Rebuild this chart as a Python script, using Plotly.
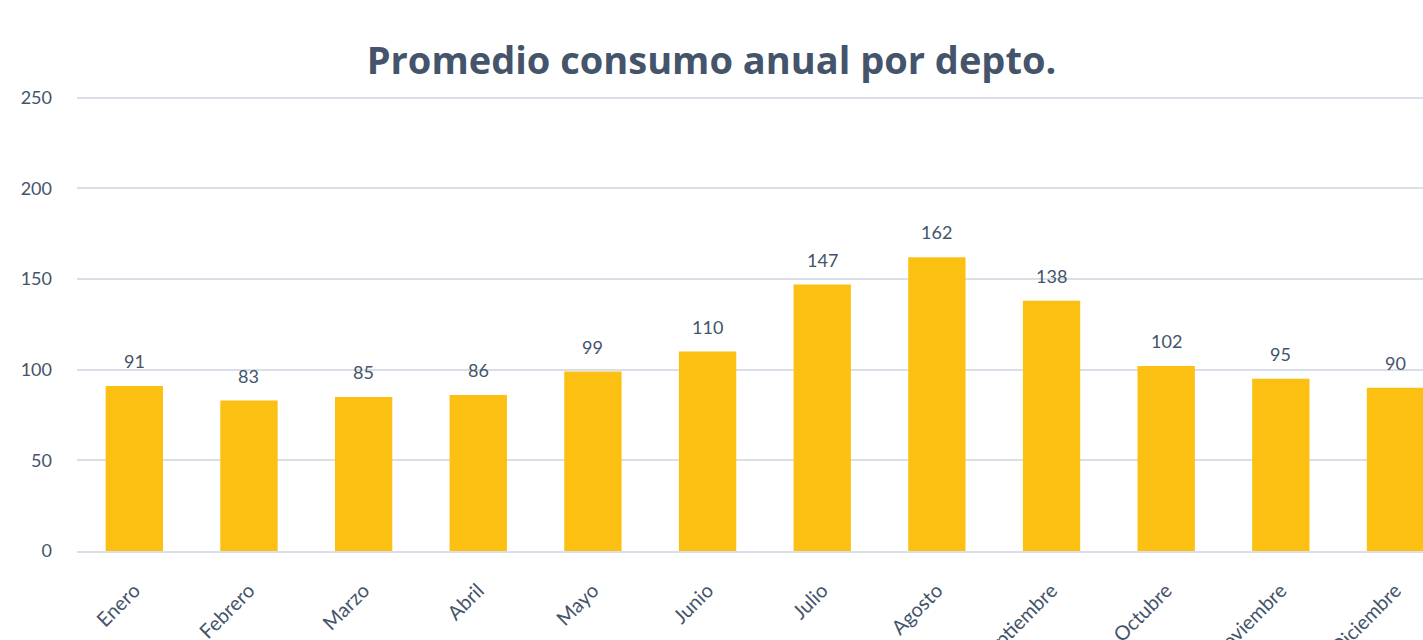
import plotly.graph_objects as go

meses = ["Enero", "Febrero", "Marzo", "Abril", "Mayo", "Junio", "Julio",
         "Agosto", "Septiembre", "Octubre", "Noviembre", "Diciembre"]
consumo = [91, 83, 85, 86, 99, 110, 147, 162, 138, 102, 95, 90]
y_ticks = [0, 50, 100, 150, 200, 250]

texto = "#44546A"
grid = "#D9DEE7"
fuente = "Lato"

fig = go.Figure()
fig.add_trace(go.Bar(
    x=list(range(len(meses))),
    y=consumo,
    marker=dict(color="#FBC012", line=dict(width=0)),
    hoverinfo="x+y",
))

# value labels above each bar
for i, v in enumerate(consumo):
    fig.add_annotation(
        x=i, y=v, text=str(v), showarrow=False,
        yanchor="bottom", yshift=12,
        font=dict(family=fuente, size=18, color=texto),
    )

fig.update_layout(
    width=1423, height=640,
    margin=dict(l=77, r=0, t=96, b=89, autoexpand=False),
    paper_bgcolor="white", plot_bgcolor="white",
    bargap=0.5,
    showlegend=False,
    title=dict(
        text="<b>Promedio consumo anual por depto.</b>",
        x=0.5, xref="container", xanchor="center",
        y=1 - 61 / 640, yref="container", yanchor="middle",
        font=dict(family="Open Sans", size=38, color=texto),
    ),
    xaxis=dict(
        tickmode="array",
        tickvals=list(range(len(meses))),
        ticktext=meses,
        range=[-0.5, 11.24],
        tickangle=-45,
        ticklabelstandoff=18,
        tickfont=dict(family=fuente, size=20, color=texto),
        showgrid=False,
        showline=True, linecolor=grid, linewidth=2,
        zeroline=False,
        automargin=False,
    ),
    yaxis=dict(
        range=[0, 251],
        tickvals=y_ticks,
        ticklabelstandoff=24,
        tickfont=dict(family=fuente, size=18, color=texto),
        showgrid=True, gridcolor=grid, gridwidth=2,
        zeroline=False,
        showline=False,
        automargin=False,
    ),
)

fig.write_html("out.html")
